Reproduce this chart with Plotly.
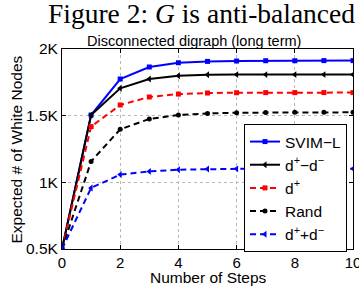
import plotly.graph_objects as go

steps = list(range(0, 11))
svim_l = [500, 1505, 1775, 1865, 1897, 1907, 1910, 1912, 1912, 1913, 1913]
dplus_minus_dminus = [500, 1505, 1705, 1775, 1800, 1807, 1808, 1808, 1808, 1808, 1808]
dplus = [500, 1418, 1580, 1640, 1662, 1670, 1672, 1673, 1673, 1673, 1673]
rand_vals = [500, 1157, 1398, 1475, 1505, 1517, 1522, 1524, 1525, 1525, 1525]
dplus_plus_dminus = [500, 958, 1058, 1082, 1095, 1100, 1101, 1102, 1102, 1102, 1102]

y_tickvals = [500, 1000, 1500, 2000]
y_ticktext = ["0.5K", "1K", "1.5K", "2K"]
x_tickvals = [0, 2, 4, 6, 8, 10]

series = [
    ("SVIM\u2212L", svim_l, "#0000ff", "solid", "square", 5),
    ("d<sup>+</sup>\u2212d<sup>\u2212</sup>", dplus_minus_dminus, "#000000", "solid", "triangle-left", 6),
    ("d<sup>+</sup>", dplus, "#ff0000", "6px,4px", "square", 5),
    ("Rand", rand_vals, "#000000", "6px,4px", "circle", 5),
    ("d<sup>+</sup>+d<sup>\u2212</sup>", dplus_plus_dminus, "#0000ff", "6px,4px", "triangle-left", 6),
]

fig = go.Figure()
for i, (name, vals, color, dash, sym, ms) in enumerate(series):
    fig.add_trace(go.Scatter(
        x=steps, y=vals, name=name, mode="lines+markers",
        line=dict(color=color, width=2, dash=dash),
        marker=dict(symbol=sym, size=ms, color=color, line=dict(width=0)),
        legendgroup=str(i),
    ))

font_sans = "Liberation Sans, Arial, sans-serif"
L, R, T, B = 62, 6, 49, 39
PW, PH = 359 - L - R, 288 - T - B
fig.update_layout(
    width=359, height=288,
    margin=dict(l=L, r=R, t=T, b=B, autoexpand=False),
    paper_bgcolor="white", plot_bgcolor="white",
    font=dict(family=font_sans, size=15, color="black"),
    showlegend=True,
    legend=dict(
        x=(244 - L) / PW, y=(288 - B - 124) / PH, xanchor="left", yanchor="top",
        bgcolor="white", bordercolor="black", borderwidth=1,
        font=dict(size=15.5, family=font_sans),
        traceorder="grouped", tracegroupgap=0,
        itemwidth=30,
    ),
    xaxis=dict(
        range=[0, 10], tickvals=x_tickvals, automargin=False,
        ticklabeloverflow="allow",
        showline=True, linecolor="black", linewidth=1, mirror="ticks",
        ticks="inside", ticklen=4, tickcolor="black",
        showgrid=True, gridcolor="#b8b8b8", griddash="dot", gridwidth=1,
        zeroline=False,
        tickfont=dict(size=15),
    ),
    yaxis=dict(
        range=[500, 2000], tickvals=y_tickvals, ticktext=y_ticktext, automargin=False,
        showline=True, linecolor="black", linewidth=1, mirror="ticks",
        ticks="inside", ticklen=4, tickcolor="black",
        showgrid=True, gridcolor="#b8b8b8", griddash="dot", gridwidth=1,
        zeroline=False,
        tickfont=dict(size=15.5),
    ),
    annotations=[
        dict(text="Figure 2: <i>G</i> is anti-balanced", xref="paper", yref="paper",
             x=(201.7 - L) / PW, y=1 + (T - 13) / PH, xanchor="center", yanchor="middle",
             showarrow=False, font=dict(family="Liberation Serif, Times New Roman, serif", size=27.5, color="black")),
        dict(text="Disconnected digraph (long term)", xref="paper", yref="paper",
             x=(194 - L) / PW, y=1 + (T - 41) / PH, xanchor="center", yanchor="middle",
             showarrow=False, font=dict(family=font_sans, size=14.5, color="black")),
        dict(text="Number of Steps", xref="paper", yref="paper",
             x=(208 - L) / PW, y=-(277.5 - (288 - B)) / PH, xanchor="center", yanchor="middle",
             showarrow=False, font=dict(family=font_sans, size=15.5, color="black")),
        dict(text="Expected # of White Nodes", xref="paper", yref="paper", textangle=-90,
             x=-(L - 15.5) / PW, y=(288 - B - 150) / PH, xanchor="center", yanchor="middle",
             showarrow=False, font=dict(family=font_sans, size=15.5, color="black")),
    ],
)

fig.write_html("out.html", config={"displayModeBar": False},
               post_script="document.body.style.margin='0px';document.body.style.overflow='hidden';")
